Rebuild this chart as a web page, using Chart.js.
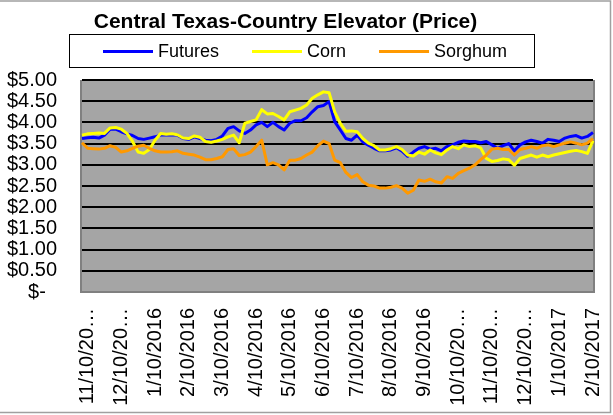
<!DOCTYPE html>
<html>
<head>
<meta charset="utf-8">
<script src="https://cdn.jsdelivr.net/npm/chart.js@4.4.0/dist/chart.umd.min.js"></script>
<style>
  html, body { margin: 0; padding: 0; background: #fff; }
</style>
</head>
<body>
<canvas id="mycanvas" width="613" height="415"></canvas>
<script>
// month tick labels (one every 6 samples)
var monthLabels = ['11/10/2015', '12/10/2015', '1/10/2016', '2/10/2016', '3/10/2016', '4/10/2016',
  '5/10/2016', '6/10/2016', '7/10/2016', '8/10/2016', '9/10/2016', '10/10/2016',
  '11/10/2016', '12/10/2016', '1/10/2017', '2/10/2017'];

var futures = [3.62, 3.64, 3.65, 3.63, 3.70, 3.84, 3.84, 3.78, 3.73, 3.69, 3.62, 3.60,
  3.63, 3.66, 3.70, 3.70, 3.71, 3.70, 3.62, 3.60, 3.66, 3.62, 3.58, 3.57,
  3.60, 3.68, 3.86, 3.90, 3.80, 3.74, 3.82, 3.94, 4.00, 3.90, 4.00, 3.90,
  3.82, 3.98, 4.04, 4.04, 4.11, 4.25, 4.37, 4.40, 4.49, 4.02, 3.82, 3.62,
  3.58, 3.70, 3.54, 3.46, 3.39, 3.33, 3.33, 3.35, 3.40, 3.32, 3.20, 3.30,
  3.39, 3.43, 3.37, 3.39, 3.33, 3.43, 3.47, 3.53, 3.56, 3.55, 3.55, 3.52,
  3.55, 3.47, 3.39, 3.45, 3.50, 3.33, 3.47, 3.54, 3.58, 3.55, 3.51, 3.60,
  3.58, 3.55, 3.63, 3.67, 3.69, 3.63, 3.67, 3.76];

var corn = [3.70, 3.73, 3.74, 3.75, 3.74, 3.87, 3.88, 3.84, 3.74, 3.55, 3.30, 3.27,
  3.36, 3.58, 3.74, 3.72, 3.73, 3.71, 3.63, 3.62, 3.68, 3.65, 3.55, 3.53,
  3.56, 3.60, 3.66, 3.70, 3.52, 3.98, 4.02, 4.06, 4.30, 4.20, 4.21, 4.14,
  4.06, 4.25, 4.29, 4.33, 4.41, 4.57, 4.65, 4.72, 4.70, 4.25, 3.98, 3.79,
  3.80, 3.78, 3.62, 3.51, 3.45, 3.35, 3.35, 3.38, 3.43, 3.36, 3.23, 3.21,
  3.30, 3.25, 3.35, 3.28, 3.24, 3.35, 3.43, 3.38, 3.47, 3.43, 3.45, 3.40,
  3.15, 3.08, 3.10, 3.14, 3.12, 2.99, 3.15, 3.19, 3.23, 3.18, 3.23, 3.19,
  3.23, 3.26, 3.29, 3.32, 3.34, 3.31, 3.27, 3.57];

var sorghum = [3.52, 3.39, 3.38, 3.37, 3.39, 3.45, 3.41, 3.30, 3.33, 3.39, 3.44, 3.46,
  3.39, 3.33, 3.30, 3.30, 3.31, 3.33, 3.27, 3.25, 3.23, 3.18, 3.12, 3.12,
  3.15, 3.19, 3.36, 3.38, 3.22, 3.24, 3.30, 3.43, 3.58, 3.00, 3.05, 3.00,
  2.88, 3.11, 3.11, 3.15, 3.23, 3.30, 3.45, 3.56, 3.50, 3.11, 3.05, 2.82,
  2.70, 2.77, 2.60, 2.52, 2.50, 2.45, 2.45, 2.47, 2.51, 2.45, 2.33, 2.40,
  2.64, 2.61, 2.66, 2.60, 2.57, 2.72, 2.68, 2.80, 2.86, 2.92, 3.00, 3.12,
  3.23, 3.37, 3.39, 3.36, 3.36, 3.23, 3.36, 3.39, 3.43, 3.39, 3.45, 3.47,
  3.43, 3.47, 3.51, 3.54, 3.51, 3.47, 3.51, 3.62];

var seriesNames = ['Futures', 'Corn', 'Sorghum'];
var seriesColors = ['#0000ff', '#ffff00', '#ff9900'];

var perMonth = 6;
var categories = [''];
for (var m = 0; m < monthLabels.length; m++) {
  categories.push(monthLabels[m]);
  if (m < monthLabels.length - 1) {
    for (var k = 1; k < perMonth; k++) categories.push('');
  }
}

var FONT = "'Liberation Sans', Arial, sans-serif";

var chartDecor = {
  id: 'chartDecor',
  beforeDraw: function (chart) {
    var c = chart.ctx, a = chart.chartArea;
    c.save();
    c.fillStyle = '#ffffff';
    c.fillRect(0, 0, chart.width, chart.height);
    c.fillStyle = '#a5a5a5';
    c.fillRect(a.left - 1, a.top, a.right - a.left + 2, a.bottom - a.top);
    c.restore();
  },
  beforeDatasetsDraw: function (chart) {
    var c = chart.ctx, a = chart.chartArea;
    c.save();
    c.strokeStyle = '#808080';
    c.lineWidth = 2;
    c.beginPath();
    c.moveTo(a.left - 1, a.top);
    c.lineTo(a.left - 1, a.bottom);
    c.lineTo(a.right + 1, a.bottom);
    c.lineTo(a.right + 1, a.top);
    c.stroke();
    c.restore();
  },
  afterDraw: function (chart) {
    var c = chart.ctx;
    c.save();
    // outer frame
    c.strokeStyle = '#a0a0a0';
    c.lineWidth = 1.5;
    c.beginPath();
    c.moveTo(0, 1);
    c.lineTo(610.5, 1);
    c.lineTo(610.5, 412.5);
    c.lineTo(0, 412.5);
    c.stroke();

    // title
    c.fillStyle = '#000';
    c.font = 'bold 21px ' + FONT;
    c.textAlign = 'center';
    c.textBaseline = 'middle';
    c.fillText('Central Texas-Country Elevator (Price)', 285.5, 22);

    // legend box
    c.strokeStyle = '#000';
    c.lineWidth = 1;
    c.strokeRect(69.5, 34.5, 465, 33);
    c.font = '18px ' + FONT;
    c.textAlign = 'left';
    var x = 103;
    chart.data.datasets.forEach(function (ds) {
      c.strokeStyle = ds.borderColor;
      c.lineWidth = 3;
      c.beginPath();
      c.moveTo(x, 51.5);
      c.lineTo(x + 50, 51.5);
      c.stroke();
      c.fillStyle = '#000';
      c.fillText(ds.label, x + 55, 52);
      x += 55 + c.measureText(ds.label).width + 33;
    });
    c.restore();
  }
};

var ctx = document.getElementById('mycanvas');

var lineGraph = new Chart(ctx, {
  type: 'line',
  data: {
    labels: categories,
    datasets: [
      { label: seriesNames[0], data: futures, borderColor: seriesColors[0], backgroundColor: seriesColors[0], order: 3 },
      { label: seriesNames[1], data: corn, borderColor: seriesColors[1], backgroundColor: seriesColors[1], order: 2 },
      { label: seriesNames[2], data: sorghum, borderColor: seriesColors[2], backgroundColor: seriesColors[2], order: 1 }
    ]
  },
  options: {
    responsive: false,
    animation: false,
    devicePixelRatio: 1,
    layout: { padding: { left: 7, right: 20, top: 80, bottom: 1 } },
    elements: {
      point: { radius: 0 },
      line: { borderWidth: 3, tension: 0, borderJoinStyle: 'round' }
    },
    plugins: {
      legend: { display: false },
      title: { display: false },
      tooltip: { enabled: false }
    },
    scales: {
      x: {
        type: 'category',
        offset: false,
        grid: { display: false, drawTicks: false },
        border: { display: false },
        afterFit: function (scale) { scale.paddingLeft = 0; scale.paddingRight = 0; scale.height = 122; },
        ticks: {
          autoSkip: false,
          minRotation: 90,
          maxRotation: 90,
          padding: 16,
          color: '#000',
          font: { family: FONT, size: 20 },
          callback: function (v) {
            var s = this.getLabelForValue(v);
            return s.length > 9 ? s.slice(0, 8) + '\u2026' : s;
          }
        }
      },
      y: {
        min: 0,
        max: 5,
        afterFit: function (scale) { scale.width = 75; scale.paddingTop = 0; scale.paddingBottom = 0; },
        grid: {
          drawTicks: false,
          lineWidth: 2,
          color: function (c) { return c.tick && c.tick.value === 0 ? '#808080' : '#000000'; }
        },
        border: { display: false },
        ticks: {
          autoSkip: false,
          stepSize: 0.5,
          padding: 25,
          color: '#000',
          font: { family: FONT, size: 20 },
          callback: function (v) { return v === 0 ? '$-  ' : '$' + v.toFixed(2); }
        }
      }
    }
  },
  plugins: [chartDecor]
});
</script>
</body>
</html>
